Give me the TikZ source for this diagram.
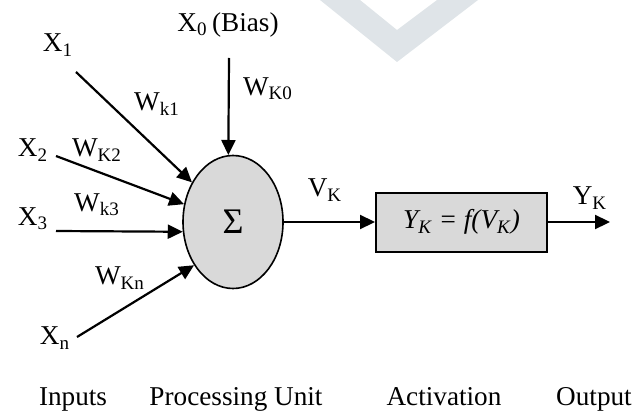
\documentclass[tikz,border=0pt]{standalone}
\usepackage{fontspec}
\setmainfont{Liberation Serif}
\usetikzlibrary{arrows.meta,shapes.geometric,positioning}
\definecolor{ink}{HTML}{000000}
\definecolor{cellGray}{HTML}{D9D9D9}
\definecolor{ghost}{HTML}{DFE4E8}
\newcommand{\FigBody}{\fontsize{13.6}{16}\selectfont}
\newcommand{\FigSigma}{\fontsize{18}{18}\selectfont}
\tikzset{
  sig/.style={ink, line width=1.1pt, -{Triangle[length=7.5pt,width=7pt]}},
  lbl/.style={font=\FigBody, ink, inner sep=0pt},
  caption/.style={lbl, anchor=base},
  sumcell/.style={ellipse, draw=ink, line width=0.8pt, fill=cellGray,
    minimum width=50pt, minimum height=66.5pt, inner sep=0pt, font=\FigSigma},
  actbox/.style={rectangle, draw=ink, line width=1pt, fill=cellGray,
    minimum width=85.5pt, minimum height=29.5pt, inner sep=0pt, font=\FigBody},
}

\begin{document}
\begin{tikzpicture}[x=0.5pt,y=-0.5pt]
  \useasboundingbox (0,0) rectangle (635,411);

  % watermark
  \fill[ghost] (320,0) -- (397,62) -- (478,0) -- (437,0) -- (397,30) -- (360,0) -- cycle;

  % processing unit and activation
  \node[sumcell] (sum) at (233,222) {Σ};
  \node[actbox] (act) at (461.5,222) {\itshape Y\textsubscript{K} = f(V\textsubscript{K})};

  % inputs
  \node[lbl] (x1) at (58,45) {X\textsubscript{1}};
  \node[lbl] (x0) at (228,25) {X\textsubscript{0}\,(Bias)};
  \node[lbl] (x2) at (33,150) {X\textsubscript{2}};
  \node[lbl] (x3) at (33,219) {X\textsubscript{3}};
  \node[lbl] (xn) at (55,338) {X\textsubscript{n}};
  \coordinate (s1) at (76,72);
  \coordinate (s0) at (229,58);
  \coordinate (s2) at (56,156);
  \coordinate (s3) at (56,231);
  \coordinate (sn) at (77,337);

  % weights
  \node[lbl] (w1) at (157,104) {W\textsubscript{k1}};
  \node[lbl] (w0) at (268,89) {W\textsubscript{K0}};
  \node[lbl] (w2) at (97,150) {W\textsubscript{K2}};
  \node[lbl] (w3) at (97,205) {W\textsubscript{k3}};
  \node[lbl] (wn) at (120,278) {W\textsubscript{Kn}};

  \draw[sig] (s1) -- (sum.136);
  \draw[sig] (s0) -- (sum.94);
  \draw[sig] (s2) -- (sum.160);
  \draw[sig] (s3) -- (sum.191);
  \draw[sig] (sn) -- (sum.228);

  % output side
  \node[lbl] (vk) at (325,190) {V\textsubscript{K}};
  \node[lbl] (yk) at (590,198) {Y\textsubscript{K}};
  \coordinate (yout) at (610,222);
  \draw[sig] (sum.east) -- (act.west);
  \draw[sig] (act.east) -- (yout);

  % stage captions
  \node[caption] (capIn) at (73,405) {Inputs};
  \node[caption] (capPu) at (236,405) {Processing Unit};
  \node[caption] (capAct) at (444,405) {Activation};
  \node[caption] (capOut) at (594,405) {Output};
\end{tikzpicture}
\end{document}
